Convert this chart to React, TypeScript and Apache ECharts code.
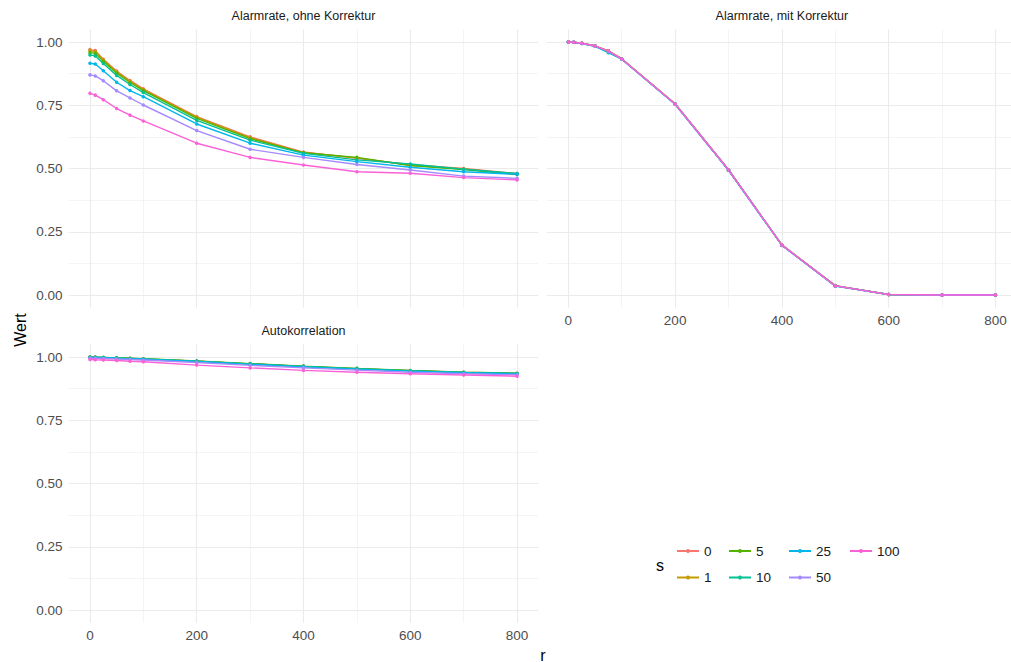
import React, { useEffect, useRef } from "react";
import * as echarts from "echarts";

// r values on the x axis (shared by every panel)
const R = [0, 10, 25, 50, 75, 100, 200, 300, 400, 500, 600, 700, 800];

// levels of s and their hue colours
const S_LEVELS = ["0", "1", "5", "10", "25", "50", "100"];
const COLORS = ["#F8766D", "#C49A00", "#53B400", "#00C094", "#00B6EB", "#A58AFF", "#FB61D7"];

// Panel "Alarmrate, ohne Korrektur"
const OHNE_S0 = [0.970, 0.966, 0.932, 0.885, 0.848, 0.815, 0.705, 0.625, 0.565, 0.540, 0.515, 0.500, 0.480];
const OHNE_S1 = [0.966, 0.962, 0.930, 0.882, 0.845, 0.812, 0.703, 0.622, 0.563, 0.542, 0.513, 0.498, 0.478];
const OHNE_S5 = [0.958, 0.955, 0.924, 0.877, 0.840, 0.808, 0.698, 0.618, 0.562, 0.544, 0.512, 0.496, 0.476];
const OHNE_S10 = [0.949, 0.945, 0.915, 0.868, 0.832, 0.800, 0.690, 0.612, 0.560, 0.534, 0.518, 0.497, 0.480];
const OHNE_S25 = [0.916, 0.913, 0.886, 0.841, 0.808, 0.784, 0.676, 0.600, 0.553, 0.527, 0.505, 0.487, 0.477];
const OHNE_S50 = [0.870, 0.866, 0.847, 0.807, 0.779, 0.751, 0.650, 0.576, 0.544, 0.516, 0.494, 0.470, 0.461];
const OHNE_S100 = [0.797, 0.790, 0.772, 0.737, 0.711, 0.688, 0.600, 0.544, 0.514, 0.487, 0.481, 0.464, 0.455];

// Panel "Alarmrate, mit Korrektur"
const MIT_S0 = [1.000, 0.999, 0.995, 0.985, 0.965, 0.934, 0.756, 0.495, 0.198, 0.037, 0.002, 0.000, 0.000];
const MIT_S1 = [1.000, 0.999, 0.995, 0.985, 0.965, 0.934, 0.756, 0.495, 0.198, 0.037, 0.002, 0.000, 0.000];
const MIT_S5 = [1.000, 0.999, 0.995, 0.984, 0.964, 0.933, 0.755, 0.494, 0.197, 0.036, 0.002, 0.000, 0.000];
const MIT_S10 = [1.000, 0.999, 0.994, 0.983, 0.958, 0.932, 0.754, 0.494, 0.197, 0.036, 0.002, 0.000, 0.000];
const MIT_S25 = [1.000, 0.999, 0.994, 0.983, 0.960, 0.932, 0.754, 0.493, 0.196, 0.035, 0.002, 0.000, 0.000];
const MIT_S50 = [1.000, 0.999, 0.995, 0.984, 0.963, 0.933, 0.755, 0.494, 0.197, 0.036, 0.002, 0.000, 0.000];
const MIT_S100 = [1.000, 0.999, 0.995, 0.984, 0.965, 0.933, 0.755, 0.495, 0.197, 0.036, 0.002, 0.000, 0.000];

// Panel "Autokorrelation"
const AUTO_S0 = [1.000, 0.999, 0.998, 0.996, 0.994, 0.992, 0.983, 0.973, 0.963, 0.954, 0.946, 0.940, 0.935];
const AUTO_S1 = [1.000, 0.999, 0.998, 0.996, 0.994, 0.992, 0.983, 0.973, 0.962, 0.953, 0.946, 0.939, 0.934];
const AUTO_S5 = [1.000, 0.999, 0.998, 0.997, 0.995, 0.993, 0.984, 0.974, 0.964, 0.955, 0.947, 0.940, 0.936];
const AUTO_S10 = [0.999, 0.999, 0.998, 0.996, 0.994, 0.992, 0.983, 0.973, 0.963, 0.954, 0.946, 0.939, 0.935];
const AUTO_S25 = [0.998, 0.998, 0.997, 0.995, 0.993, 0.991, 0.982, 0.971, 0.961, 0.952, 0.944, 0.938, 0.933];
const AUTO_S50 = [0.996, 0.995, 0.994, 0.992, 0.990, 0.988, 0.978, 0.967, 0.957, 0.948, 0.940, 0.934, 0.930];
const AUTO_S100 = [0.990, 0.989, 0.988, 0.986, 0.983, 0.981, 0.968, 0.957, 0.947, 0.940, 0.934, 0.929, 0.924];

const PANEL_TITLES = ["Alarmrate, ohne Korrektur", "Alarmrate, mit Korrektur", "Autokorrelation"];
const PANEL_DATA = [
  [OHNE_S0, OHNE_S1, OHNE_S5, OHNE_S10, OHNE_S25, OHNE_S50, OHNE_S100],
  [MIT_S0, MIT_S1, MIT_S5, MIT_S10, MIT_S25, MIT_S50, MIT_S100],
  [AUTO_S0, AUTO_S1, AUTO_S5, AUTO_S10, AUTO_S25, AUTO_S50, AUTO_S100],
];

const X_MAJOR = [0, 200, 400, 600, 800];
const X_MINOR = [100, 300, 500, 700];
const Y_MAJOR = [0, 0.25, 0.5, 0.75, 1];
const Y_MINOR = [0.125, 0.375, 0.625, 0.875];

const FONT = "Liberation Sans, Arial, Helvetica, sans-serif";
const GRID_COLOR = "#EBEBEB";

export default function App() {
  const ref = useRef<HTMLDivElement>(null);

  useEffect(() => {
    if (!ref.current) return;
    const chart = echarts.init(ref.current, undefined, { renderer: "svg" });

    const W = 469.8;
    const H = 278.3;
    const grids = [
      { left: 68.6, top: 29.35, width: W, height: H },
      { left: 547, top: 29.35, width: W, height: H },
      { left: 68.6, top: 344.35, width: W, height: H },
    ];
    const showX = [false, true, true];
    const showY = [true, false, true];

    const xAxis: any[] = [];
    const yAxis: any[] = [];
    grids.forEach((_, gi) => {
      xAxis.push({
        type: "value", gridIndex: gi, min: -40, max: 840,
        axisLine: { show: false },
        axisTick: { show: false, customValues: X_MAJOR },
        axisLabel: {
          show: showX[gi], customValues: X_MAJOR, margin: 6,
          color: "#4D4D4D", fontSize: 13.5, fontFamily: FONT,
        },
        splitLine: { show: true, lineStyle: { color: GRID_COLOR, width: 1.1 } },
      });
      xAxis.push({
        type: "value", gridIndex: gi, min: -40, max: 840,
        axisLine: { show: false },
        axisTick: { show: false, customValues: X_MINOR },
        axisLabel: { show: false, customValues: X_MINOR },
        splitLine: { show: true, lineStyle: { color: GRID_COLOR, width: 0.55 } },
      });
      yAxis.push({
        type: "value", gridIndex: gi, min: -0.05, max: 1.05,
        axisLine: { show: false },
        axisTick: { show: false, customValues: Y_MAJOR },
        axisLabel: {
          show: showY[gi], customValues: Y_MAJOR, margin: 6,
          color: "#4D4D4D", fontSize: 13.5, fontFamily: FONT,
          formatter: (v: number) => v.toFixed(2),
        },
        splitLine: { show: true, lineStyle: { color: GRID_COLOR, width: 1.1 } },
      });
      yAxis.push({
        type: "value", gridIndex: gi, min: -0.05, max: 1.05,
        axisLine: { show: false },
        axisTick: { show: false, customValues: Y_MINOR },
        axisLabel: { show: false, customValues: Y_MINOR },
        splitLine: { show: true, lineStyle: { color: GRID_COLOR, width: 0.55 } },
      });
    });

    const series: any[] = [];
    PANEL_DATA.forEach((panel, pi) => {
      panel.forEach((vals, si) => {
        series.push({
          type: "line",
          name: S_LEVELS[si],
          xAxisIndex: pi * 2,
          yAxisIndex: pi * 2,
          data: R.map((r, i) => [r, vals[i]]),
          symbol: "circle",
          symbolSize: 3.5,
          showSymbol: true,
          color: COLORS[si],
          lineStyle: { width: 1.4, color: COLORS[si] },
          itemStyle: { color: COLORS[si] },
          emphasis: { disabled: true },
        });
      });
    });

    // legend keys laid out column-wise, two rows
    const colLeft = [676, 728, 788, 849];
    const rowTop = [544, 570.5];
    const legend = S_LEVELS.map((s, i) => ({
      data: [s],
      left: colLeft[Math.floor(i / 2)],
      top: rowTop[i % 2],
      padding: 0,
      itemWidth: 22,
      itemHeight: 5,
      itemGap: 0,
      textStyle: { fontSize: 13.5, color: "#1A1A1A", fontFamily: FONT },
      selectedMode: false,
    }));

    const graphic: any[] = [
      ...PANEL_TITLES.map((t, i) => ({
        type: "text",
        x: grids[i].left + W / 2,
        y: grids[i].top - 13,
        style: {
          text: t, fill: "#1A1A1A", font: `12.5px ${FONT}`,
          textAlign: "center", textVerticalAlign: "middle",
        },
      })),
      {
        type: "text", x: 543, y: 655,
        style: { text: "r", fill: "#000", font: `16px ${FONT}`, textAlign: "center", textVerticalAlign: "middle" },
      },
      {
        type: "text", x: 20, y: 330, rotation: Math.PI / 2,
        style: { text: "Wert", fill: "#000", font: `16px ${FONT}`, textAlign: "center", textVerticalAlign: "middle" },
      },
      {
        type: "text", x: 660, y: 565,
        style: { text: "s", fill: "#000", font: `16px ${FONT}`, textAlign: "center", textVerticalAlign: "middle" },
      },
    ];

    chart.setOption({
      animation: false,
      backgroundColor: "#FFFFFF",
      grid: grids,
      xAxis,
      yAxis,
      series,
      legend,
      graphic,
    });

    return () => chart.dispose();
  }, []);

  // the right-hand panel runs slightly past the window edge, so the chart
  // surface is wider than the visible frame, which clips it
  return (
    <div style={{ position: "fixed", left: 0, top: 0, width: 1011, height: 662, overflow: "hidden", background: "#fff" }}>
      <div ref={ref} style={{ width: 1030, height: 662 }} />
    </div>
  );
}
